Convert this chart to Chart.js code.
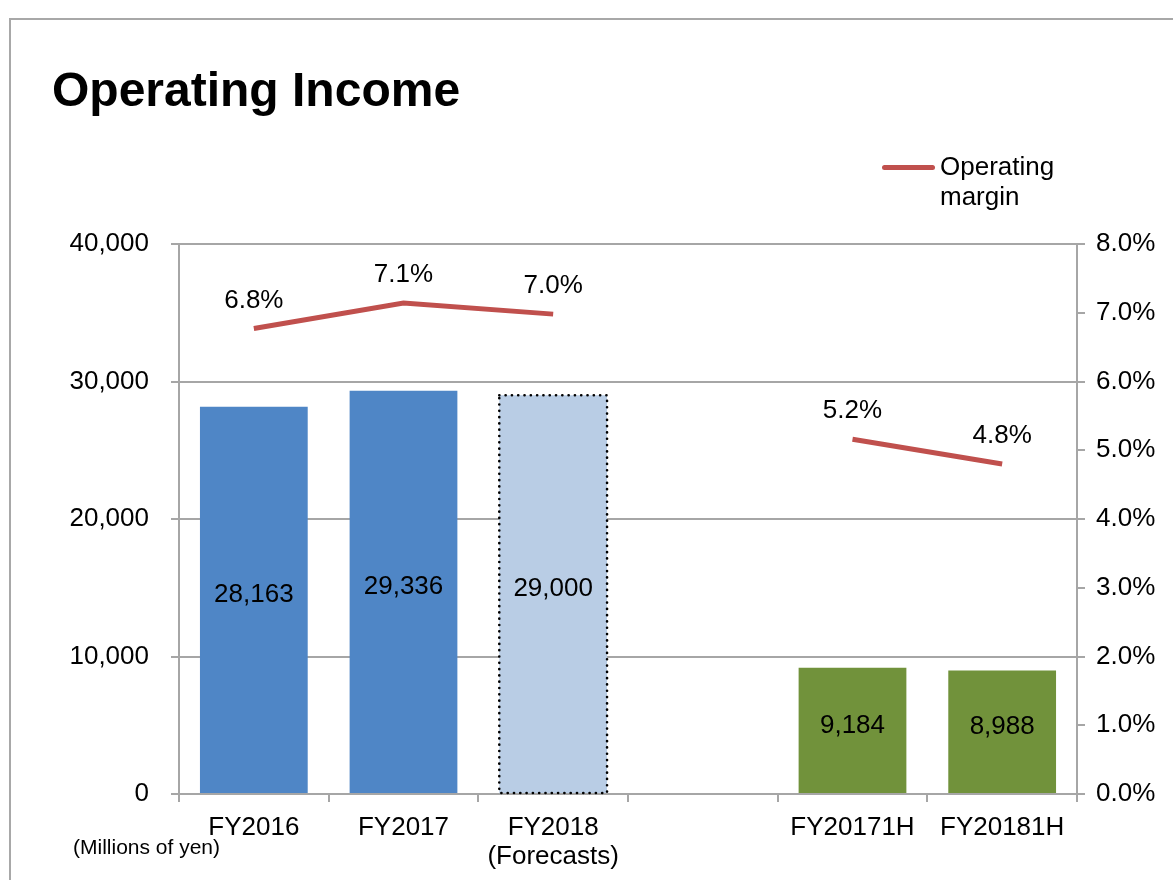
<!DOCTYPE html>
<html>
<head>
<meta charset="utf-8">
<script src="https://cdn.jsdelivr.net/npm/chart.js@4/dist/chart.umd.min.js"></script>
<style>
  html, body { margin:0; padding:0; width:1173px; height:880px; overflow:hidden; background:#fff; font-family:"Liberation Sans", Arial, sans-serif; }
  #frame { position:absolute; left:9px; top:18px; width:1300px; height:1000px; border:2px solid #a8a8a8; box-sizing:border-box; }
  #title { position:absolute; left:52px; top:62px; font-size:48px; font-weight:bold; color:#000; line-height:56px; }
  #legend { position:absolute; left:882px; top:151px; font-size:26px; color:#000; line-height:30px; }
  #legend .ln { position:absolute; left:0; top:14px; width:53px; height:5px; border-radius:3px; background:#C0504D; }
  #legend .tx { position:absolute; left:58px; top:0; white-space:nowrap; }
  #unit { position:absolute; left:73px; top:835px; font-size:21px; color:#000; white-space:nowrap; }
  #wrap { position:absolute; left:0; top:0; width:1173px; height:880px; }
</style>
</head>
<body>
<div id="frame"></div>
<div id="wrap"><canvas id="c" width="1173" height="880"></canvas></div>
<div id="title">Operating Income</div>
<div id="legend"><div class="ln"></div><div class="tx">Operating<br>margin</div></div>
<div id="unit">(Millions of yen)</div>
<script>
const categories = [["FY2016"], ["FY2017"], ["FY2018", "(Forecasts)"], [""], ["FY20171H"], ["FY20181H"]];
const incomeValues = [28163, 29336, 29000, null, 9184, 8988];
const marginValues = [6.77, 7.14, 6.98, null, 5.16, 4.80];
const barColors = ["#4F86C6", "#4F86C6", "#B9CDE5", "#4F86C6", "#71923B", "#71923B"];
const dottedBars = [false, false, true, false, false, false];
const leftTicks = [0, 10000, 20000, 30000, 40000];
const rightTicks = [0, 1, 2, 3, 4, 5, 6, 7, 8];

const FONT = "Liberation Sans, Arial, sans-serif";
const GRID = "#A6A6A6";

const labelPlugin = {
  id: "labels",
  afterDatasetsDraw(chart) {
    const ctx = chart.ctx;
    ctx.save();
    const barMeta = chart.getDatasetMeta(0);
    barMeta.data.forEach((el, i) => {
      if (!dottedBars[i] || incomeValues[i] == null) return;
      const w = el.width;
      const x0 = el.x - w / 2;
      ctx.save();
      ctx.strokeStyle = "#000";
      ctx.lineWidth = 2.6;
      ctx.lineCap = "round";
      ctx.setLineDash([0.1, 6.2]);
      ctx.beginPath();
      ctx.rect(x0, el.y, w, el.base - el.y);
      ctx.stroke();
      ctx.restore();
    });
    ctx.font = "26px " + FONT;
    ctx.fillStyle = "#000";
    ctx.textAlign = "center";
    ctx.textBaseline = "middle";
    barMeta.data.forEach((el, i) => {
      const v = incomeValues[i];
      if (v == null) return;
      ctx.fillText(v.toLocaleString("en-US"), el.x, (el.y + el.base) / 2 - 5);
    });
    const lineMeta = chart.getDatasetMeta(1);
    lineMeta.data.forEach((el, i) => {
      const v = marginValues[i];
      if (v == null) return;
      ctx.fillText(v.toFixed(1) + "%", el.x, el.y - 28);
    });
    ctx.restore();
  }
};

new Chart(document.getElementById("c"), {
  data: {
    labels: categories,
    datasets: [
      {
        type: "bar",
        label: "Operating income",
        data: incomeValues,
        backgroundColor: barColors,
        borderWidth: 0,
        yAxisID: "y",
        categoryPercentage: 1.0,
        barPercentage: 0.72,
        order: 2
      },
      {
        type: "line",
        label: "Operating margin",
        data: marginValues,
        borderColor: "#C0504D",
        borderWidth: 5,
        pointRadius: 0,
        spanGaps: false,
        tension: 0,
        yAxisID: "y1",
        order: 1
      }
    ]
  },
  options: {
    responsive: false,
    animation: false,
    events: [],
    layout: { padding: { top: 244, left: 0, right: 0, bottom: 0 } },
    plugins: { legend: { display: false }, tooltip: { enabled: false } },
    scales: {
      x: {
        offset: true,
        grid: { offset: true, drawOnChartArea: false, drawTicks: true, tickLength: 8, color: GRID, lineWidth: 2 },
        border: { color: GRID, width: 2 },
        ticks: { font: { family: FONT, size: 26, lineHeight: 1.1 }, color: "#000", padding: 12, maxRotation: 0, autoSkip: false },
        afterFit(s) { s.height = 86; }
      },
      y: {
        position: "left",
        min: 0, max: 40000,
        afterBuildTicks(s) { s.ticks = leftTicks.map(v => ({ value: v })); },
        grid: { color: GRID, lineWidth: 2, tickLength: 8 },
        border: { color: GRID, width: 2 },
        ticks: {
          font: { family: FONT, size: 26 }, color: "#000", padding: 22,
          callback: v => v.toLocaleString("en-US")
        },
        afterFit(s) { s.width = 179; }
      },
      y1: {
        position: "right",
        min: 0, max: 8,
        afterBuildTicks(s) { s.ticks = rightTicks.map(v => ({ value: v })); },
        grid: { drawOnChartArea: false, color: GRID, lineWidth: 2, tickLength: 8 },
        border: { color: GRID, width: 2 },
        ticks: {
          font: { family: FONT, size: 26 }, color: "#000", padding: 11,
          callback: v => v.toFixed(1) + "%"
        },
        afterFit(s) { s.width = 96; }
      }
    }
  },
  plugins: [labelPlugin]
});
</script>
</body>
</html>
